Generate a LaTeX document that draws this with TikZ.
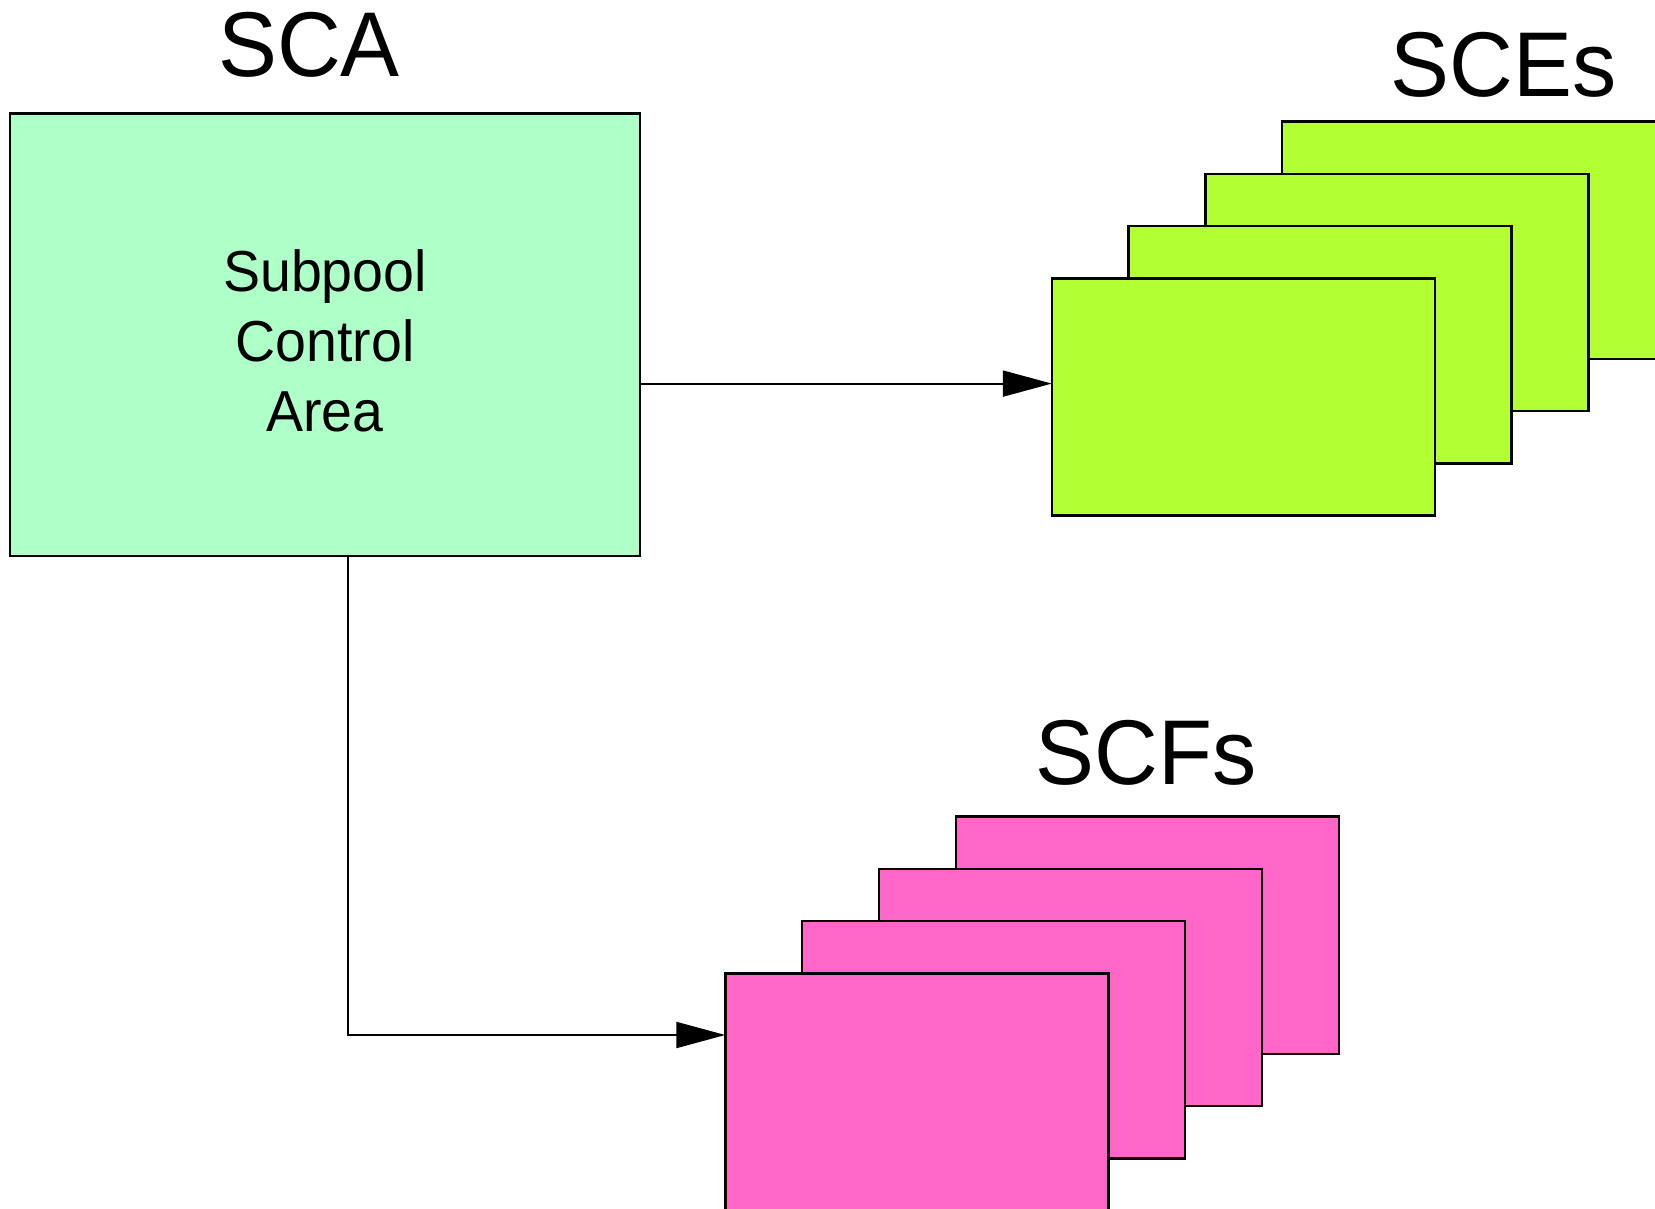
\documentclass[tikz,border=0pt]{standalone}
\usepackage{fontspec}
\setmainfont{Liberation Sans}[FakeStretch=0.96]
\usetikzlibrary{arrows.meta,calc}
\definecolor{scagreen}{RGB}{175,255,200}
\definecolor{scelime}{RGB}{178,255,51}
\definecolor{scfpink}{RGB}{255,102,200}
\tikzset{
  box/.style={draw=black, line width=2.4pt, inner sep=0pt, outer sep=0pt},
  card/.style={box, minimum width=383pt, minimum height=237.3pt},
  scecard/.style={card, fill=scelime},
  scfcard/.style={card, fill=scfpink},
  title/.style={inner sep=0pt, anchor=base, font=\fontsize{92}{110}\selectfont},
  arr/.style={line width=2pt, -{Triangle[length=49pt,width=26pt]}},
}
\begin{document}
\begin{tikzpicture}[x=1pt,y=-1pt]
\useasboundingbox (0,0) rectangle (1655,1209);
% SCA
\node[box, fill=scagreen, minimum width=629.7pt, minimum height=442.4pt] (sca) at (325,334.8) {};
\node[inner sep=0pt, align=center, font=\fontsize{57.8}{70}\selectfont] (scatext) at (325,341) {Subpool\\Control\\Area};
\node[title] (scalabel) at (309,76.5) {SCA};
% SCEs stack (back to front)
\node[scecard] (sce4) at (1473.7,240.1) {};
\node[scecard] (sce3) at (1396.9,292.4) {};
\node[scecard] (sce2) at (1320.1,344.7) {};
\node[scecard] (sce1) at (1243.3,397.0) {};
\node[title] (scelabel) at (1503.8,97) {SCEs};
% SCFs stack (back to front)
\node[scfcard] (scf4) at (1147.2,935.1) {};
\node[scfcard] (scf3) at (1070.4,987.4) {};
\node[scfcard] (scf2) at (993.6,1039.8) {};
\node[scfcard] (scf1) at (916.8,1092.1) {};
\node[title] (scflabel) at (1146,784) {SCFs};
% connectors
\coordinate (sceIn) at ([yshift=13.4pt]sce1.west);
\coordinate (scfIn) at ([yshift=57.1pt]scf1.west);
\coordinate (scaOut) at ([xshift=22.7pt]sca.south);
\draw[arr] (sca.east |- sceIn) -- (sceIn);
\draw[arr] (scaOut) |- (scfIn);
\end{tikzpicture}
\end{document}
